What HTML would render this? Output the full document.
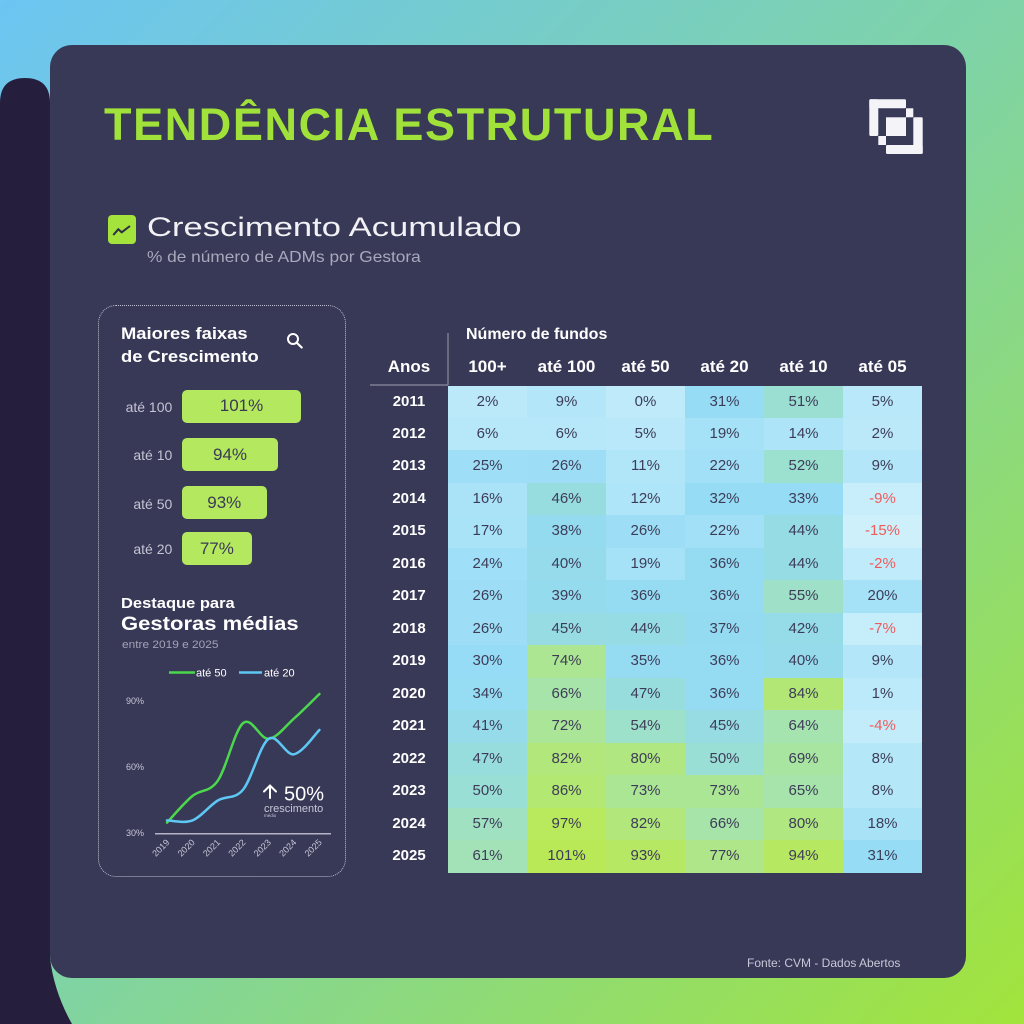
<!DOCTYPE html>
<html><head><meta charset="utf-8">
<style>
*{margin:0;padding:0;box-sizing:border-box}
html,body{width:1024px;height:1024px;overflow:hidden}
body{position:relative;background:linear-gradient(135deg,#6cc5f2 0%,#7fd3a6 50%,#a2e43c 100%);font-family:"Liberation Sans",sans-serif}
.a{position:absolute;white-space:nowrap;line-height:1}
.s{transform-origin:0 0}
.card{position:absolute;left:50px;top:45px;width:916px;height:933px;background:#383857;border-radius:22px}
.panel{position:absolute;left:97.5px;top:305px;width:248.5px;height:572px;border:1.5px dotted rgba(215,215,228,.85);border-radius:18px}
.bl{position:absolute;left:100px;width:72.3px;text-align:right;font-size:14px;line-height:1;color:#c4c4d4}
.bar{position:absolute;left:182px;background:#b4e85e;border-radius:5px;color:#3a3a55;font-size:17px;text-align:center}
.hd{position:absolute;top:357.9px;width:79px;text-align:center;font-size:17px;font-weight:bold;color:#fff;line-height:1}
.tbl{position:absolute;left:448px;top:385.5px;width:474px}
.row{display:flex;height:32.47px}
.row div{width:79px;text-align:center;line-height:31px;font-size:15px;color:#3d3c58}
.row div.n{color:#f05a5a}
.yrs{position:absolute;left:370px;top:385.5px;width:78px}
.yrs div{height:32.47px;line-height:31px;text-align:center;font-size:15px;font-weight:bold;color:#fff}
</style></head><body>
<svg style="position:absolute;left:0;top:0" width="1024" height="1024">
<path d="M0,103 Q0,78 25,78 Q50,78 50,103 L50,958 Q54,992 72,1024 L0,1024 Z" fill="#251e3d"/>
</svg>
<div class="card"></div>

<div class="a" style="left:104px;top:102px;font-size:45px;font-weight:bold;color:#a0e13a;letter-spacing:1.6px">TENDÊNCIA ESTRUTURAL</div>

<svg style="position:absolute;left:0;top:0" width="1024" height="1024">
<g fill="#f4f4f8">
<rect x="869.3" y="99.3" width="36.7" height="9" rx="1.2"/>
<rect x="869.3" y="99.3" width="9" height="36.7" rx="1.2"/>
<rect x="906" y="108.3" width="7.3" height="9"/>
<rect x="878.3" y="136" width="7.7" height="9"/>
<rect x="886" y="117.3" width="20" height="18.7"/>
<rect x="913.3" y="117.3" width="9.4" height="36.7" rx="1.2"/>
<rect x="886" y="145" width="36.7" height="9" rx="1.2"/>
</g>
<rect x="108" y="215" width="28" height="29" rx="4" fill="#a4e23c"/>
<polyline points="113.3,235 118.3,229.3 121.7,232.3 130,226" fill="none" stroke="#2d2d45" stroke-width="2"/>
</svg>

<div class="a s" style="left:147px;top:214.4px;font-size:27px;color:#f2f2f6;transform:scaleX(1.28)">Crescimento Acumulado</div>
<div class="a s" style="left:147px;top:249.5px;font-size:16px;color:#a9a9bd;transform:scaleX(1.08)">% de número de ADMs por Gestora</div>

<div class="panel"></div>
<div class="a s" style="left:121px;top:324.6px;font-size:17px;font-weight:bold;color:#fff;transform:scaleX(1.08)">Maiores faixas</div>
<div class="a s" style="left:121px;top:347.9px;font-size:17px;font-weight:bold;color:#fff;transform:scaleX(1.08)">de Crescimento</div>
<svg style="position:absolute;left:0;top:0" width="1024" height="1024">
<circle cx="293" cy="339" r="5" fill="none" stroke="#fff" stroke-width="2"/>
<line x1="296.5" y1="342.5" x2="301.7" y2="347.5" stroke="#fff" stroke-width="2.2" stroke-linecap="round"/>
</svg>

<div class="bl" style="top:399.8px">até 100</div>
<div class="bl" style="top:448px">até 10</div>
<div class="bl" style="top:497px">até 50</div>
<div class="bl" style="top:541.5px">até 20</div>
<div class="bar" style="top:390px;width:119px;height:32.5px;line-height:32.5px">101%</div>
<div class="bar" style="top:438px;width:96px;height:33px;line-height:33px">94%</div>
<div class="bar" style="top:485.5px;width:84.5px;height:33px;line-height:33px">93%</div>
<div class="bar" style="top:531.7px;width:69.7px;height:33.3px;line-height:33.3px">77%</div>

<div class="a s" style="left:121px;top:595.6px;font-size:15px;font-weight:bold;color:#fff;transform:scaleX(1.1)">Destaque para</div>
<div class="a s" style="left:121px;top:614.6px;font-size:19px;font-weight:bold;color:#fff;transform:scaleX(1.16)">Gestoras médias</div>
<div class="a s" style="left:122px;top:640px;font-size:11px;color:#a3a3b8;transform:scaleX(1.08)">entre 2019 e 2025</div>

<svg style="position:absolute;left:0;top:0" width="1024" height="1024" font-family="Liberation Sans, sans-serif">
<line x1="169" y1="672.5" x2="195" y2="672.5" stroke="#4cd84c" stroke-width="2.5"/>
<text x="196" y="676.3" font-size="11" fill="#fff">até 50</text>
<line x1="239" y1="672.5" x2="262" y2="672.5" stroke="#5ec8f4" stroke-width="2.5"/>
<text x="264" y="676.3" font-size="11" fill="#fff">até 20</text>
<g font-size="9" fill="#c8c8d8">
<text x="126" y="704.2">90%</text>
<text x="126" y="770.2">60%</text>
<text x="126" y="836.2">30%</text>
</g>
<line x1="155" y1="833.7" x2="331" y2="833.7" stroke="#b4b4c4" stroke-width="1.5"/>
<g font-size="9" fill="#c8c8d8" text-anchor="end">
<text transform="translate(170,843) rotate(-45)">2019</text>
<text transform="translate(195.4,843) rotate(-45)">2020</text>
<text transform="translate(220.8,843) rotate(-45)">2021</text>
<text transform="translate(246.2,843) rotate(-45)">2022</text>
<text transform="translate(271.6,843) rotate(-45)">2023</text>
<text transform="translate(297,843) rotate(-45)">2024</text>
<text transform="translate(322.4,843) rotate(-45)">2025</text>
</g>
<path d="M167,822.6 C171.2,818.2 183.9,803 192.4,796 C200.9,789 209.3,792.9 217.8,780.7 C226.3,768.5 234.7,730 243.2,723 C251.7,716 260.1,739.55 268.6,738.8 C277.1,738.05 285.5,726 294,718.5 C302.5,711 315.2,698.1 319.4,694" fill="none" stroke="#4cd84c" stroke-width="2.5" stroke-linecap="round"/>
<path d="M167,820.4 C171.2,820.4 184,823.7 192.4,820.4 C200.9,817.1 209.3,805.65 217.8,800.5 C226.3,795.35 234.7,799.8 243.2,789.5 C251.7,779.2 260.1,744.7 268.6,738.8 C277.1,732.9 285.5,755.8 294,754.3 C302.5,752.8 315.2,734.05 319.4,730" fill="none" stroke="#5ec8f4" stroke-width="2.5" stroke-linecap="round"/>
<g stroke="#fff" stroke-width="2" fill="none" stroke-linecap="round">
<line x1="270" y1="786" x2="270" y2="798"/>
<polyline points="264,791.5 270,785.5 276,791.5"/>
</g>
<text x="284" y="800.3" font-size="20" fill="#fff">50%</text>
<text x="264" y="812" font-size="11" fill="#c8c8d8">crescimento</text>
<text x="264" y="817" font-size="4.5" fill="#c8c8d8">médio</text>
<line x1="370" y1="385" x2="448" y2="385" stroke="#8a8aa0" stroke-width="1.2"/>
<line x1="448" y1="333" x2="448" y2="385" stroke="#8a8aa0" stroke-width="1.2"/>
</svg>

<div class="a" style="left:466px;top:326.5px;font-size:16px;font-weight:bold;color:#fff">Número de fundos</div>
<div class="hd" style="left:370px;width:78px">Anos</div>
<div class="hd" style="left:448px">100+</div>
<div class="hd" style="left:527px">até 100</div>
<div class="hd" style="left:606px">até 50</div>
<div class="hd" style="left:685px">até 20</div>
<div class="hd" style="left:764px">até 10</div>
<div class="hd" style="left:843px">até 05</div>

<div class="yrs">
<div>2011</div><div>2012</div><div>2013</div><div>2014</div><div>2015</div><div>2016</div><div>2017</div><div>2018</div><div>2019</div><div>2020</div><div>2021</div><div>2022</div><div>2023</div><div>2024</div><div>2025</div>
</div>

<div class="tbl">
<div class="row"><div style="background:#bce9fa">2%</div><div style="background:#b3e6f8">9%</div><div style="background:#beeafa">0%</div><div style="background:#97dcf5">31%</div><div style="background:#9bdfd3">51%</div><div style="background:#b8e8f9">5%</div></div>
<div class="row"><div style="background:#b7e8f9">6%</div><div style="background:#b7e8f9">6%</div><div style="background:#b8e8f9">5%</div><div style="background:#a6e2f7">19%</div><div style="background:#ade4f8">14%</div><div style="background:#bce9fa">2%</div></div>
<div class="row"><div style="background:#9edff7">25%</div><div style="background:#9ddef6">26%</div><div style="background:#b1e6f8">11%</div><div style="background:#a2e0f7">22%</div><div style="background:#9ce0d0">52%</div><div style="background:#b3e6f8">9%</div></div>
<div class="row"><div style="background:#aae3f7">16%</div><div style="background:#97dddf">46%</div><div style="background:#afe5f8">12%</div><div style="background:#96dcf5">32%</div><div style="background:#96dcf4">33%</div><div class="n" style="background:#c8eefb">-9%</div></div>
<div class="row"><div style="background:#a9e3f7">17%</div><div style="background:#94dbf0">38%</div><div style="background:#9ddef6">26%</div><div style="background:#a2e0f7">22%</div><div style="background:#96dce4">44%</div><div class="n" style="background:#cef0fb">-15%</div></div>
<div class="row"><div style="background:#9fdff7">24%</div><div style="background:#95dbec">40%</div><div style="background:#a6e2f7">19%</div><div style="background:#95dbf2">36%</div><div style="background:#96dce4">44%</div><div class="n" style="background:#c0ebfa">-2%</div></div>
<div class="row"><div style="background:#9ddef6">26%</div><div style="background:#94dbee">39%</div><div style="background:#95dbf2">36%</div><div style="background:#95dbf2">36%</div><div style="background:#9ee1c8">55%</div><div style="background:#a5e1f7">20%</div></div>
<div class="row"><div style="background:#9ddef6">26%</div><div style="background:#96dce2">45%</div><div style="background:#96dce4">44%</div><div style="background:#94dbf1">37%</div><div style="background:#95dce8">42%</div><div class="n" style="background:#c5edfa">-7%</div></div>
<div class="row"><div style="background:#97dcf6">30%</div><div style="background:#ace692">74%</div><div style="background:#95dbf2">35%</div><div style="background:#95dbf2">36%</div><div style="background:#95dbec">40%</div><div style="background:#b3e6f8">9%</div></div>
<div class="row"><div style="background:#96dcf3">34%</div><div style="background:#a6e4a9">66%</div><div style="background:#98dddd">47%</div><div style="background:#95dbf2">36%</div><div style="background:#b2e776">84%</div><div style="background:#bdeafa">1%</div></div>
<div class="row"><div style="background:#95dbea">41%</div><div style="background:#aae598">72%</div><div style="background:#9ee1cb">54%</div><div style="background:#96dce2">45%</div><div style="background:#a5e3af">64%</div><div class="n" style="background:#c2ecfa">-4%</div></div>
<div class="row"><div style="background:#98dddd">47%</div><div style="background:#b1e77b">82%</div><div style="background:#b0e780">80%</div><div style="background:#9adfd5">50%</div><div style="background:#a8e5a1">69%</div><div style="background:#b4e7f8">8%</div></div>
<div class="row"><div style="background:#9adfd5">50%</div><div style="background:#b3e872">86%</div><div style="background:#abe695">73%</div><div style="background:#abe695">73%</div><div style="background:#a6e4ac">65%</div><div style="background:#b4e7f8">8%</div></div>
<div class="row"><div style="background:#a0e1c2">57%</div><div style="background:#b9e95d">97%</div><div style="background:#b1e77b">82%</div><div style="background:#a6e4a9">66%</div><div style="background:#b0e780">80%</div><div style="background:#a8e2f7">18%</div></div>
<div class="row"><div style="background:#a3e2b7">61%</div><div style="background:#bae958">101%</div><div style="background:#b7e863">93%</div><div style="background:#aee689">77%</div><div style="background:#b7e862">94%</div><div style="background:#97dcf5">31%</div></div>
</div>

<div class="a" style="left:747px;top:957px;font-size:12px;color:#c8c8d8">Fonte: CVM - Dados Abertos</div>
</body></html>
